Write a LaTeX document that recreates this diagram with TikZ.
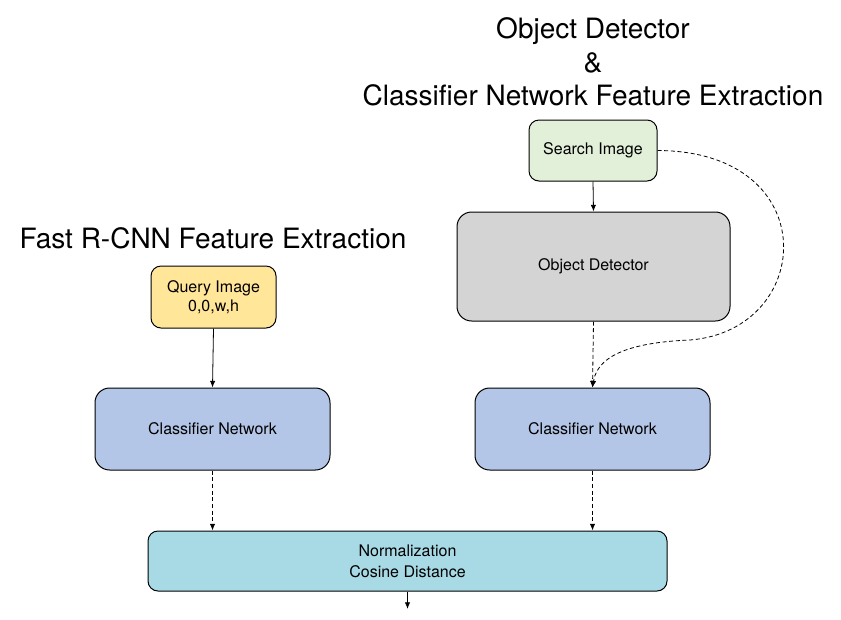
\documentclass[tikz,border=0pt]{standalone}
\usepackage{fontspec}
\setmainfont{TeX Gyre Heros}
\usetikzlibrary{arrows.meta}

\definecolor{searchgreen}{HTML}{E2EFD9}
\definecolor{detectgray}{HTML}{D5D4D5}
\definecolor{queryyellow}{HTML}{FFE699}
\definecolor{clsblue}{HTML}{B4C6E7}
\definecolor{normcyan}{HTML}{A8DAE6}

\tikzset{every picture/.style={line width=0.75pt}}
\tikzset{
  box/.style={draw, line width=0.75pt, inner sep=0pt, align=center, font=\fontsize{12}{14}\selectfont},
  headline/.style={inner sep=0.75pt, align=center, font=\fontsize{21}{25}\selectfont},
  flow/.style={-{Latex[length=5pt,width=4pt]}, line width=0.6pt},
  dashflow/.style={flow, dash pattern=on 3pt off 2pt}
}

\begin{document}
\begin{tikzpicture}[x=0.75pt,y=0.75pt,yscale=-1,xscale=1]
\useasboundingbox (0,0) rectangle (841,619);

%Shape: Rounded Rect [id:search]
\node [box, fill=searchgreen, rounded corners=7.5pt, minimum width=96pt, minimum height=45.75pt] (search) at (593,150.5) {Search Image};
%Shape: Rounded Rect [id:detector]
\node [box, fill=detectgray, rounded corners=11pt, minimum width=204.75pt, minimum height=81.75pt] (detector) at (593.5,266.5) {Object Detector};
%Shape: Rounded Rect [id:query]
\node [box, fill=queryyellow, rounded corners=7.5pt, minimum width=93.75pt, minimum height=46.5pt] (query) at (213.5,297) {Query Image\\0,0,w,h};
%Shape: Rounded Rect [id:lcls]
\node [box, fill=clsblue, rounded corners=11pt, minimum width=176.25pt, minimum height=61.5pt] (lcls) at (212.5,429) {Classifier Network};
%Shape: Rounded Rect [id:rcls]
\node [box, fill=clsblue, rounded corners=11pt, minimum width=176.25pt, minimum height=61.5pt] (rcls) at (592.5,429) {Classifier Network};
%Shape: Rounded Rect [id:norm]
\node [box, fill=normcyan, rounded corners=7.5pt, minimum width=389.25pt, minimum height=45pt, font=\fontsize{12}{16}\selectfont] (norm) at (407.5,561) {Normalization\\Cosine Distance};

% Text Node
\node [headline] (odtitle) at (593,62) {Object Detector\\\&\\Classifier Network Feature Extraction};
% Text Node
\node [headline] (fasttitle) at (213,238) {Fast R-CNN Feature Extraction};

%Straight Lines
\draw [flow] (search.south) -- (detector.north);
\draw [dashflow] (detector.south) -- (rcls.north);
\draw [flow] (query.south) -- (lcls.north);
\draw [dashflow] (lcls.south) -- (lcls.south |- norm.north);
\draw [dashflow] (rcls.south) -- (rcls.south |- norm.north);
\coordinate (out) at (407.5,609);
\draw [flow] (norm.south) -- (out);
%Curve Lines
\coordinate (bend) at (690,340);
\draw [dashflow] (search.east) .. controls (825,151) and (815,330) .. (bend) .. controls (640,342) and (598,352) .. (rcls.north);

\end{tikzpicture}
\end{document}
